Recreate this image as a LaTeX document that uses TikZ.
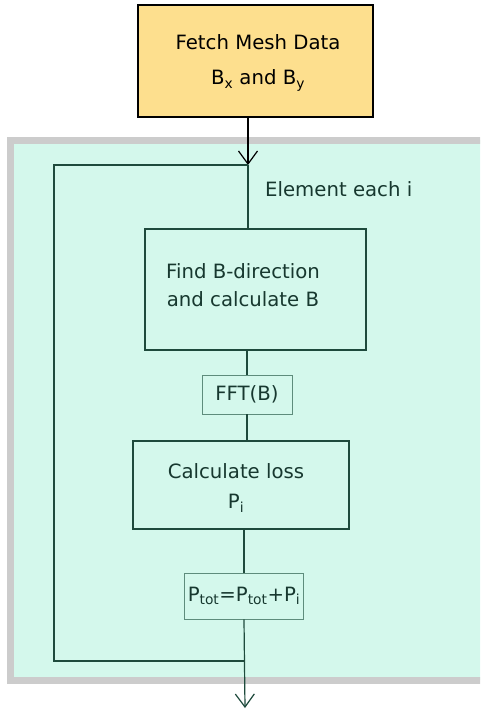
\documentclass[tikz,border=0pt]{standalone}
\usepackage{fontspec}
\setmainfont{DejaVu Sans}
\usetikzlibrary{arrows.meta}
\definecolor{fetchfill}{HTML}{FDDF8E}
\definecolor{loopfill}{HTML}{D4F8EC}
\definecolor{loopgray}{HTML}{CCCCCC}
\definecolor{boxline}{HTML}{1E4A3C}
\definecolor{thinline}{HTML}{5E8C7C}
\definecolor{txtgreen}{HTML}{17382F}
\tikzset{
  fetchbox/.style={draw=black, line width=1.6pt, fill=fetchfill, minimum width=235pt, minimum height=112pt},
  stepbox/.style={draw=boxline, line width=1.6pt},
  smallbox/.style={draw=thinline, line width=0.9pt, fill=loopfill, align=center, text=txtgreen},
  boxtext/.style={text=txtgreen, align=center},
  flow/.style={draw=boxline, line width=1.2pt},
  barb/.style={-{Straight Barb[length=13pt, width=19pt]}},
}
\begin{document}
\begin{tikzpicture}[x=1pt, y=-1pt, font=\fontsize{19.7}{28}\selectfont]
\clip (0,0) rectangle (480,713);
% panel round the loop
\draw[loopgray, line width=7pt, fill=loopfill] (10.5,140) rectangle (500,680);

% boxes
\node[fetchbox] (fetch) at (255.5,61) {};
\node[align=center] (fetchtxt) at (258,63) {Fetch Mesh Data\\[7pt]B\textsubscript{x} and B\textsubscript{y}};
\node[stepbox, minimum width=221pt, minimum height=121pt] (find) at (255.5,289.5) {};
\node[boxtext] (findtxt) at (243,285) {Find B-direction\\and calculate B};
\node[smallbox, minimum width=90pt, minimum height=39pt] (fft) at (247,394.5) {FFT(B)};
\node[stepbox, minimum width=216pt, minimum height=88pt] (calc) at (241,485) {};
\node[boxtext] (calctxt) at (236,488) {Calculate loss\\[2pt]P\textsubscript{i}};
\node[smallbox, minimum width=118pt, minimum height=46pt] (ptot) at (244,596) {P\textsubscript{tot}=P\textsubscript{tot}+P\textsubscript{i}};
\node[boxtext, anchor=west, inner sep=0pt] (elem) at (265,189) {Element each i};

% loop corners
\coordinate (looptop) at (248,165);
\coordinate (looptl) at (54,165);
\coordinate (loopbl) at (54,661);
\coordinate (exit) at (245,708);

% connectors
\draw[black, line width=1.2pt, barb] (fetch.south -| looptop) -- (looptop);
\draw[flow] (looptop) -- (find.north -| looptop);
\draw[flow] (looptop) -- (looptl) -- (loopbl) -- (loopbl -| exit);
\draw[flow] (find.south -| fft.north) -- (fft.north);
\draw[flow] (fft.south) -- (calc.north -| fft.south);
\draw[flow] (calc.south -| ptot.north) -- (ptot.north);
\draw[flow, barb] (ptot.south) -- (exit);
\end{tikzpicture}
\end{document}
